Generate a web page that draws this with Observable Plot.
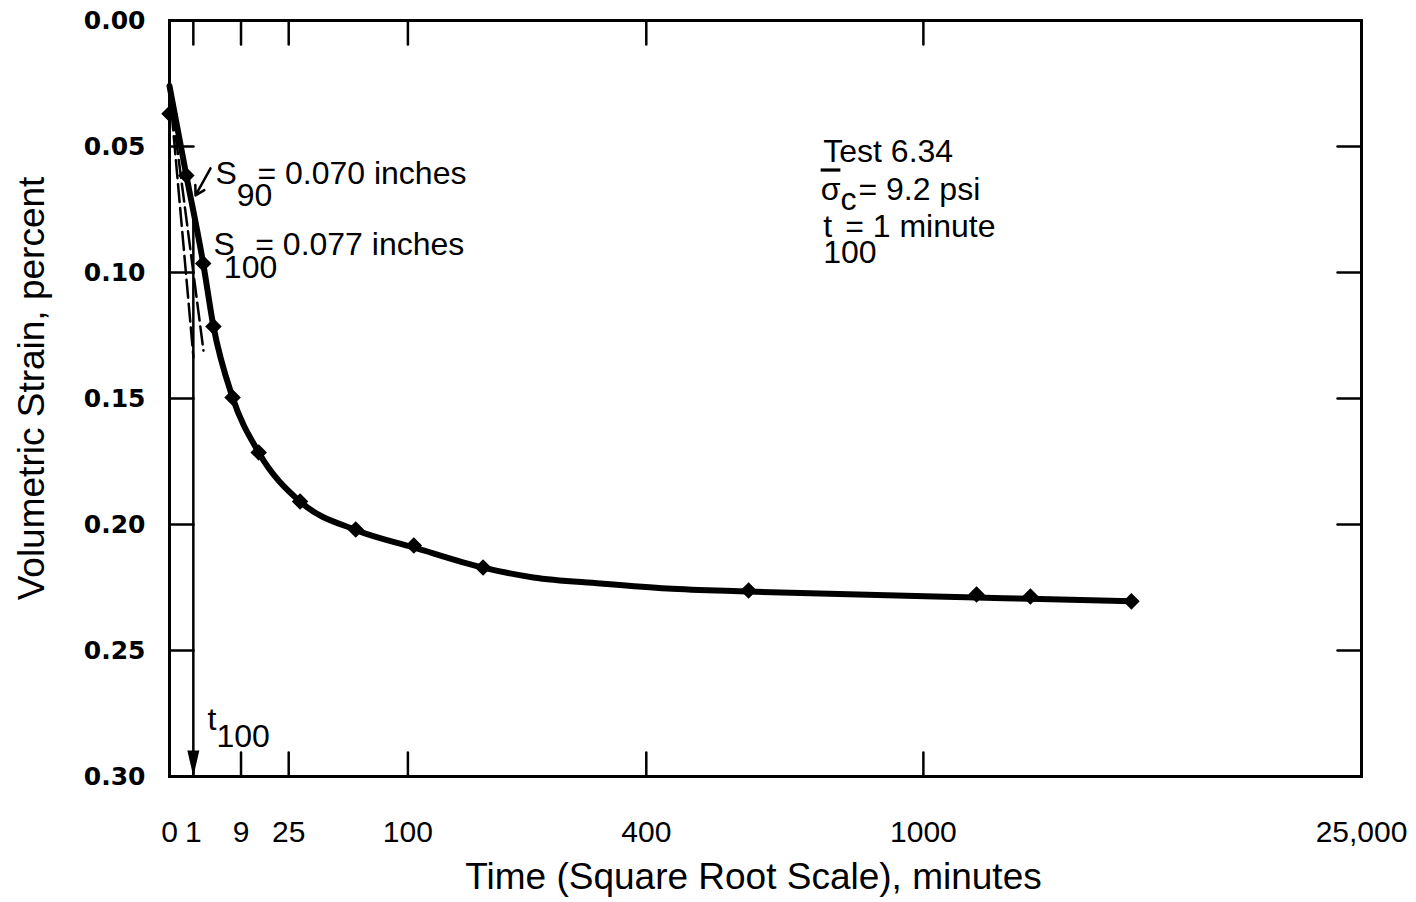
<!DOCTYPE html>
<html><head><meta charset="utf-8">
<script src="https://cdn.jsdelivr.net/npm/d3@7"></script>
<script src="https://cdn.jsdelivr.net/npm/@observablehq/plot@0.6"></script>
<style>body{margin:0;background:#fff;} #chart{width:1416px;height:902px;}</style>
</head><body><div id="chart"></div>
<script>
// ---- data ----
// measured points: time (minutes) and volumetric strain (percent)
const timeMin   = [0, 0.5, 2.0, 3.4, 7, 14, 30, 61, 105, 173, 590, 1146, 1304, 1628];
const strainPct = [0.037, 0.0615, 0.0964, 0.1214, 0.1496, 0.1714, 0.1909, 0.2020, 0.2083, 0.2171, 0.2262, 0.2278, 0.2286, 0.2305];
// hand-drawn fitted curve
const curveTime   = [0, 0.5, 2.0, 3.4, 7, 14, 30, 61, 105, 173, 233, 327, 436, 590, 1146, 1304, 1628];
const curveStrain = [0.026, 0.0615, 0.0964, 0.1214, 0.1496, 0.1714, 0.1909, 0.2022, 0.2091, 0.2171, 0.2210, 0.2234, 0.2254, 0.2266, 0.2290, 0.2295, 0.2305];
// Taylor construction lines (initial tangent and 1.15 line)
const tangentA = {t: [0, 1.01], s: [0.027, 0.1337]};
const tangentB = {t: [0, 2.03], s: [0.027, 0.131]};
// t100 marker
const t100 = 1;
const s100Line = [0.077, 0.30];
// S90 pointer
const s90Pointer = {t: [2.96, 1.19], s: [0.0587, 0.0694]};
// ticks
const xTickVals = [1, 9, 25, 100, 400, 1000];
const xLabelVals = [0, 1, 9, 25, 100, 400, 1000, 2500];
const xLabelText = ["0", "1", "9", "25", "100", "400", "1000", "25,000"];
const yInnerTicks = [0.05, 0.10, 0.15, 0.20, 0.25];
const yLabelVals = [0, 0.05, 0.10, 0.15, 0.20, 0.25, 0.30];
// annotations
const annTime = [3.72, 3.41, 752, 746, 752, 752, 2.54];
const annStrain = [0.0647, 0.0929, 0.0563, 0.0714, 0.0861, 0.0964, 0.2817];
const annText = ["S90= 0.070 inches", "S100= 0.077 inches", "Test 6.34", "σc= 9.2 psi", "t = 1 minute", "100", "t100"];
const xTitle = "Time (Square Root Scale), minutes";
const yTitle = "Volumetric Strain, percent";

// ---- build ----
const points = timeMin.map((t, i) => ({t, s: strainPct[i]}));
const curve = curveTime.map((t, i) => ({t, s: curveStrain[i]}));
const toPts = o => o.t.map((t, i) => ({t, s: o.s[i]}));
const anns = annText.map((text, i) => ({t: annTime[i], s: annStrain[i], text}));
const xLabelMap = new Map(xLabelVals.map((v, i) => [v, xLabelText[i]]));

const tickShape = {draw(ctx, l) { ctx.moveTo(0, 0); ctx.lineTo(0, -l); }};
const arrowHead = {draw(ctx) { ctx.moveTo(0, 0); ctx.lineTo(-6, -26); ctx.lineTo(6, -26); ctx.closePath(); }};
const tickOpts = {length: 24, anchor: "start", shape: tickShape, stroke: "black", strokeWidth: 2.5};

const plot = Plot.plot({
  width: 1416, height: 902,
  marginLeft: 169, marginRight: 55, marginTop: 20, marginBottom: 126,
  style: {fontFamily: "'Liberation Sans', Arial, sans-serif", fontSize: "32px", color: "black", background: "white", overflow: "visible"},
  x: {type: "sqrt", domain: [0, 2500]},
  y: {domain: [0, 0.30], reverse: true},
  marks: [
    Plot.vectorX(xTickVals, {...tickOpts, frameAnchor: "bottom", rotate: 0}),
    Plot.vectorX(xTickVals, {...tickOpts, frameAnchor: "top", rotate: 180}),
    Plot.vectorY(yInnerTicks, {...tickOpts, frameAnchor: "left", rotate: 90}),
    Plot.vectorY(yInnerTicks, {...tickOpts, frameAnchor: "right", rotate: -90}),
    Plot.axisX(xLabelVals, {tickSize: 0, tickPadding: 44, tickFormat: d => xLabelMap.get(d), fontSize: 30, label: null}),
    Plot.axisY(yLabelVals, {tickSize: 0, tickPadding: 24, tickFormat: d => d.toFixed(2), fontSize: 25, fontWeight: "bold", fontFamily: "'DejaVu Sans', sans-serif", label: null}),
    Plot.text([xTitle], {frameAnchor: "bottom", lineAnchor: "middle", textAnchor: "middle", dy: 101, dx: -12, fontSize: 37}),
    Plot.text([yTitle], {frameAnchor: "left", rotate: -90, textAnchor: "middle", lineAnchor: "middle", dx: -137, dy: -10, fontSize: 37}),
    Plot.line(toPts(tangentA), {x: "t", y: "s", stroke: "black", strokeWidth: 2.5, strokeDasharray: "18,6"}),
    Plot.line(toPts(tangentB), {x: "t", y: "s", stroke: "black", strokeWidth: 2.5, strokeDasharray: "18,6"}),
    Plot.ruleX([t100], {y1: s100Line[0], y2: s100Line[1], stroke: "black", strokeWidth: 2.5}),
    Plot.dot([t100], {x: d => d, y: s100Line[1], symbol: arrowHead, fill: "black", stroke: "none"}),
    Plot.line(curve, {x: "t", y: "s", curve: "monotone-x", stroke: "black", strokeWidth: 6}),
    Plot.dot(points, {x: "t", y: "s", symbol: "diamond2", r: 6.5, fill: "black", stroke: "black", strokeWidth: 1.5}),
    Plot.arrow([s90Pointer], {x1: d => d.t[0], y1: d => d.s[0], x2: d => d.t[1], y2: d => d.s[1], stroke: "black", strokeWidth: 2.5, headLength: 10}),
    Plot.text(anns, {x: "t", y: "s", text: "text", textAnchor: "start", lineAnchor: "bottom", fontSize: 32}),
    Plot.frame({stroke: "black", strokeWidth: 3})
  ]
});

// subscripts / overline as tspans
const rich = {
  "S90= 0.070 inches": [["S", 0, 0], ["90", 0, 22], ["= 0.070 inches", -15, -22]],
  "S100= 0.077 inches": [["S", 0, 0], ["100", -11, 23], ["= 0.077 inches", -22, -23]],
  "σc= 9.2 psi": [["σ", 0, 0, "overline"], ["c", 0, 10], ["= 9.2 psi", 2, -10]],
  "t = 1 minute": [["t", 0, 0], ["= 1 minute", 13, 0]],
  "t100": [["t", 0, 0], ["100", 0, 17]]
};
d3.select(plot).selectAll("text").each(function() {
  const spec = rich[this.textContent];
  if (!spec) return;
  const sel = d3.select(this);
  sel.text(null);
  for (const [str, dx, dy, deco] of spec) {
    const ts = sel.append("tspan").attr("dx", dx).attr("dy", dy).text(str);
    if (deco) ts.style("text-decoration", deco);
  }
});
document.getElementById("chart").appendChild(plot);
</script>
</body></html>
